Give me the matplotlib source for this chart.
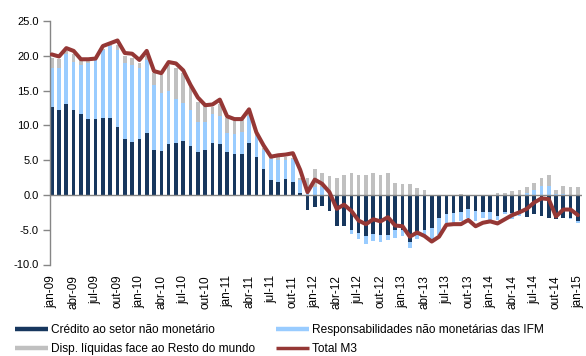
import matplotlib

matplotlib.use("Agg")
import matplotlib.pyplot as plt
import numpy as np
from matplotlib.lines import Line2D

plt.rcParams["font.family"] = ["Liberation Sans", "DejaVu Sans"]
plt.rcParams["axes.unicode_minus"] = False

# monthly periods jan-09 .. jan-15
month_names = ["jan", "fev", "mar", "abr", "mai", "jun",
               "jul", "ago", "set", "out", "nov", "dez"]
periods = [f"{m}-{y:02d}" for y in range(9, 16) for m in month_names][:73]

# contributions to M3 growth (p.p.)
credito = [
    12.7, 12.2, 13.0, 12.2, 11.6, 10.9, 10.9, 11.1, 11.1, 9.8, 8.0, 7.6,
    8.0, 8.9, 6.5, 6.3, 7.3, 7.4, 7.7, 7.0, 6.2, 6.5, 7.4, 7.3,
    6.2, 5.9, 5.9, 7.4, 5.4, 3.7, 2.1, 1.9, 2.3, 1.8, 0.3, -2.1,
    -1.8, -1.6, -2.3, -4.5, -4.4, -5.0, -5.5, -5.9, -5.6, -5.7, -5.7, -5.0,
    -5.0, -6.7, -5.7, -5.1, -4.8, -3.3, -2.8, -2.6, -2.4, -2.0, -2.3, -2.4,
    -2.4, -3.0, -2.4, -2.6, -2.8, -3.2, -2.7, -3.0, -3.3, -3.5, -3.3, -3.3,
    -3.8,
]
responsabilidades = [
    5.6, 6.0, 7.3, 6.9, 7.1, 8.1, 8.5, 9.7, 10.3, 11.1, 11.0, 11.1,
    10.3, 10.5, 9.3, 8.4, 7.7, 6.4, 5.5, 5.2, 4.3, 4.0, 4.3, 4.1,
    2.7, 2.9, 3.1, 3.9, 3.1, 2.8, 3.0, 3.1, 2.7, 3.3, 1.8, 0.8,
    1.2, 1.2, 0.3, 0.0, -0.1, -0.6, -0.8, -1.2, -1.0, -1.0, -0.8, -1.2,
    -0.9, -0.9, -0.6, -0.8, -1.6, -2.4, -1.2, -1.4, -1.4, -1.3, -1.5, -0.9,
    -1.2, -0.6, -0.4, -0.9, -0.3, 0.3, 0.7, 1.3, 1.3, 0.2, 0.2, -0.2,
    -0.3,
]
disp_liquidas = [
    1.4, 1.4, 0.4, 1.1, 0.7, 0.3, 0.1, 0.2, 0.2, 0.6, 1.0, 1.0,
    0.6, 0.5, 1.7, 2.6, 3.7, 4.5, 4.3, 3.3, 2.9, 2.3, 0.9, 1.7,
    2.2, 1.8, 1.7, 0.5, 0.2, 0.2, 0.4, 0.4, 0.5, 0.2, 0.3, 1.7,
    2.5, 2.0, 2.4, 2.4, 2.8, 3.1, 2.8, 2.8, 3.1, 2.8, 3.2, 1.7,
    1.6, 1.6, 1.0, 0.7, 0.0, 0.0, 0.0, 0.0, 0.1, 0.0, 0.0, 0.0,
    0.0, 0.3, 0.3, 0.5, 0.7, 0.9, 1.0, 1.2, 1.5, 0.5, 1.1, 1.2,
    1.2,
]
total_m3 = [
    20.2, 19.9, 21.1, 20.7, 19.5, 19.5, 19.6, 21.4, 21.8, 22.2, 20.4, 20.3,
    19.4, 20.7, 17.8, 17.5, 19.1, 18.9, 17.9, 15.8, 14.0, 12.9, 13.0, 13.7,
    11.3, 10.9, 10.9, 12.3, 9.0, 7.1, 5.5, 5.7, 5.8, 6.0, 3.6, 0.4,
    2.2, 1.6, 0.4, -2.0, -1.4, -2.3, -3.7, -4.2, -3.5, -3.8, -3.2, -4.4,
    -4.5, -6.0, -5.4, -5.9, -6.7, -6.0, -4.3, -4.2, -4.2, -3.6, -4.5, -4.0,
    -3.8, -4.1, -3.5, -2.9, -2.5, -2.0, -1.1, -0.5, -0.6, -3.1, -2.1, -2.1,
    -2.9,
]

series = [
    ("Crédito ao setor não monetário", credito, "#17375E"),
    ("Responsabilidades não monetárias das IFM", responsabilidades, "#99CCFF"),
    ("Disp. líquidas face ao Resto do mundo", disp_liquidas, "#C0C0C0"),
]
line_color = "#953735"
axis_gray = "#868686"

W, H = 586, 356
fig = plt.figure(figsize=(W / 100, H / 100), dpi=100)
ax = fig.add_axes([50.1 / W, 1 - 264.5 / H, (582.3 - 50.1) / W, (264.5 - 21) / H])

x = np.arange(len(periods))
pos_base = np.zeros(len(x))
neg_base = np.zeros(len(x))
for name, vals, color in series:
    v = np.asarray(vals, dtype=float)
    bottom = np.where(v >= 0, pos_base, neg_base)
    ax.bar(x, v, bottom=bottom, width=0.5, color=color, linewidth=0, zorder=2)
    pos_base += np.clip(v, 0, None)
    neg_base += np.clip(v, None, 0)

ax.axhline(0, color=axis_gray, lw=1.0, zorder=3)
ax.plot(x, total_m3, color=line_color, lw=2.9, zorder=4,
        solid_joinstyle="round", solid_capstyle="round")

ax.set_xlim(-0.22, 72.6)
ax.set_ylim(-10, 25)
ax.set_yticks(np.arange(-10, 26, 5))
ax.set_yticklabels([f"{v:.1f}" for v in np.arange(-10, 26, 5)])
ax.set_xticks(x[::3])
ax.set_xticklabels(periods[::3], rotation=90, va="top", ha="center")

ax.tick_params(axis="y", direction="out", length=5, width=1, color=axis_gray,
               labelsize=8, pad=3)
ax.tick_params(axis="x", length=0, labelsize=8.5, pad=7.5)
for side in ("top", "right", "bottom"):
    ax.spines[side].set_visible(False)
ax.spines["left"].set_color(axis_gray)
ax.spines["left"].set_linewidth(1.0)

# legend laid out as a 2x2 grid below the plot
handles = [
    (Line2D([], [], color=series[0][2], lw=3.2, solid_capstyle="butt"), series[0][0], 15, 330),
    (Line2D([], [], color=series[1][2], lw=3.2, solid_capstyle="butt"), series[1][0], 276, 330),
    (Line2D([], [], color=series[2][2], lw=3.2, solid_capstyle="butt"), series[2][0], 15, 349),
    (Line2D([], [], color=line_color, lw=2.5, solid_capstyle="butt"), "Total M3", 276, 349),
]
for h, label, px, py in handles:
    fig.legend([h], [label], loc="center left", bbox_to_anchor=(px / W, 1 - py / H),
               frameon=False, fontsize=8.6, borderpad=0, borderaxespad=0,
               handlelength=2.75, handletextpad=0.25)

fig.savefig("out.png", dpi=100)
